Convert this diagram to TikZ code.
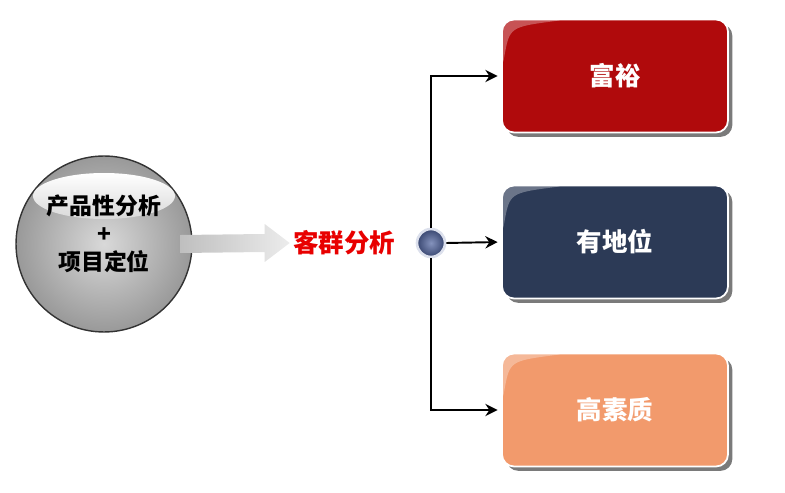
\documentclass[tikz,border=0pt]{standalone}
\usepackage{fontspec}
\newfontfamily\cjk{Noto Sans CJK SC}
\usetikzlibrary{arrows.meta,shadows,calc}
\definecolor{richred}{RGB}{176,10,12}
\definecolor{statusblue}{RGB}{44,58,86}
\definecolor{qualorange}{RGB}{242,154,108}
\definecolor{hubcol}{RGB}{80,100,160}
\definecolor{keyred}{RGB}{232,0,0}
\tikzset{
  >={Stealth[length=7pt,width=7pt]},
  box/.style={draw=white,line width=1pt,rounded corners=0.24cm,minimum width=4.52cm,minimum height=2.26cm,
    text=white,font=\cjk\bfseries\fontsize{14.5}{16}\selectfont,
    drop shadow={shadow xshift=2.5pt,shadow yshift=-2.5pt,fill=gray!70!black,opacity=.8},
    path picture={\fill[white,opacity=.3] (path picture bounding box.north west) -- ([yshift=-1.0cm]path picture bounding box.north west)
      .. controls ([xshift=0.15cm,yshift=-0.15cm]path picture bounding box.north west) .. ([xshift=1.3cm]path picture bounding box.north west) -- cycle;}},
  link/.style={->,line width=1.1pt,shorten >=2pt},
  label/.style={font=\cjk\bfseries\fontsize{13}{15.9}\selectfont,align=center}
}
\begin{document}
\begin{tikzpicture}[x=0.02cm,y=-0.02cm]
\useasboundingbox (0,0) rectangle (785,493);
% left sphere
\node[circle,minimum size=3.52cm,inner color=gray!30,outer color=gray!80,draw=gray!40!black,line width=0.8pt](prod)at(104,244){};
\shade[top color=white,bottom color=gray!30](104,196)ellipse[x radius=1.42cm,y radius=0.46cm];
\node[label](prodtxt)at(104,234){产品性分析\\+\\项目定位};
% target text and grey arrow
\node[font=\cjk\bfseries\fontsize{14.5}{16}\selectfont,text=keyred,inner sep=0pt](target)at(344,243){客群分析};
\shade[left color=gray!50,right color=gray!15]
  ($(prod.east)+(-12,-9)$)--($(target.west)+(-28,-9)$)--($(target.west)+(-28,-19)$)--($(target.west)+(-3,0)$)
  --($(target.west)+(-28,19)$)--($(target.west)+(-28,9)$)--($(prod.east)+(-12,9)$)--cycle;
% hub
\node[circle,minimum size=0.56cm,inner color=hubcol!70!white,outer color=hubcol!70!black,draw=white!80!hubcol,line width=1.5pt](hub)at(431,243){};
% boxes
\node[box,fill=richred](rich)at(615,76){富裕};
\node[box,fill=statusblue](status)at(615,242){有地位};
\node[box,fill=qualorange](quality)at(615,410){高素质};
\draw[link](hub.north)|-(rich.west);
\draw[link](hub.east)--(status.west);
\draw[link](hub.south)|-(quality.west);
\end{tikzpicture}
\end{document}
